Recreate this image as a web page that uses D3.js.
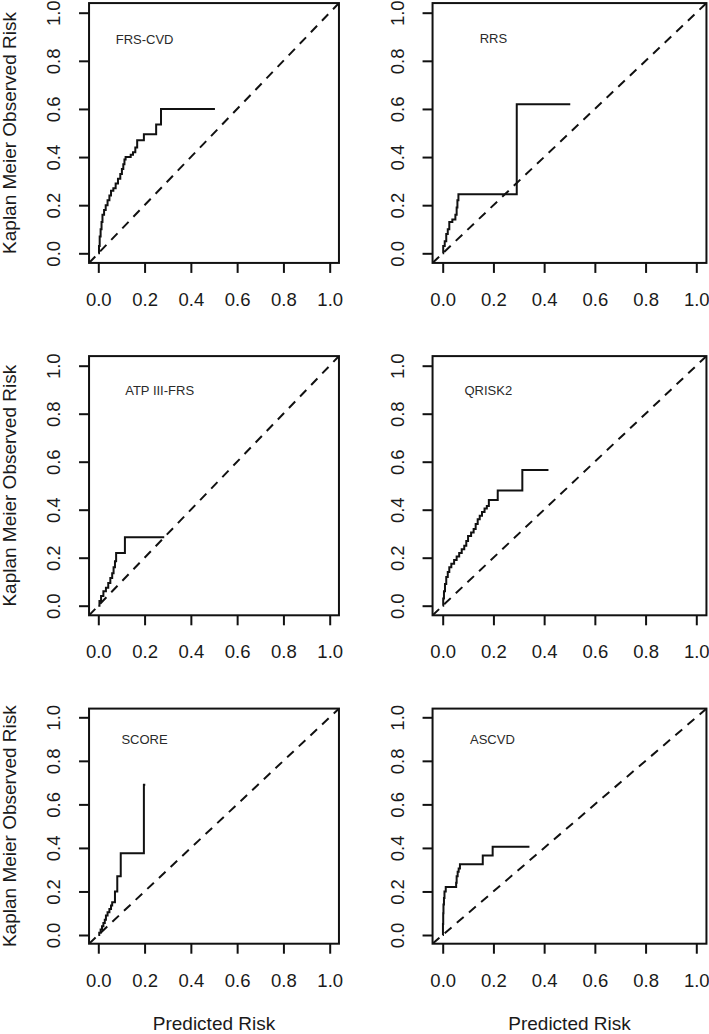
<!DOCTYPE html>
<html><head><meta charset="utf-8">
<script src="https://cdn.jsdelivr.net/npm/d3@7"></script>
<style>body{margin:0;background:#fff}svg{display:block}</style>
</head><body><svg id="c" width="709" height="1034"></svg>
<script>
// ---------- data ----------
const panelNames = ["FRS-CVD", "RRS", "ATP III-FRS", "QRISK2", "SCORE", "ASCVD"];
const labelX = [0.2, 0.2, 0.265, 0.18, 0.2, 0.196];
const labelY = [0.89, 0.895, 0.895, 0.895, 0.896, 0.896];

const frsX = [0, 0.003, 0.006, 0.010, 0.014, 0.018, 0.025, 0.032, 0.040, 0.048, 0.055, 0.065, 0.075, 0.085, 0.095, 0.102, 0.108, 0.113, 0.118, 0.140, 0.150, 0.160, 0.168, 0.197, 0.250, 0.271, 0.504];
const frsY = [0, 0.03, 0.07, 0.10, 0.13, 0.16, 0.18, 0.20, 0.22, 0.24, 0.26, 0.27, 0.29, 0.31, 0.33, 0.35, 0.37, 0.39, 0.40, 0.41, 0.42, 0.44, 0.47, 0.495, 0.535, 0.60, 0.60];

const rrsX = [0, 0.002, 0.008, 0.014, 0.020, 0.026, 0.038, 0.050, 0.055, 0.058, 0.062, 0.292, 0.503];
const rrsY = [0, 0.03, 0.05, 0.08, 0.10, 0.13, 0.14, 0.16, 0.19, 0.22, 0.245, 0.62, 0.62];

const atpX = [0, 0.005, 0.012, 0.022, 0.033, 0.043, 0.052, 0.060, 0.066, 0.072, 0.077, 0.115, 0.285];
const atpY = [0, 0.02, 0.04, 0.06, 0.075, 0.095, 0.115, 0.135, 0.16, 0.185, 0.22, 0.285, 0.285];

const qriskX = [0, 0.002, 0.005, 0.009, 0.014, 0.020, 0.026, 0.034, 0.045, 0.055, 0.065, 0.075, 0.085, 0.093, 0.100, 0.112, 0.122, 0.130, 0.138, 0.146, 0.155, 0.165, 0.174, 0.182, 0.217, 0.314, 0.417];
const qriskY = [0, 0.03, 0.06, 0.09, 0.12, 0.14, 0.16, 0.175, 0.19, 0.205, 0.22, 0.235, 0.25, 0.27, 0.29, 0.305, 0.32, 0.34, 0.36, 0.375, 0.39, 0.405, 0.415, 0.44, 0.48, 0.565, 0.565];

const scoreX = [0, 0.004, 0.010, 0.016, 0.022, 0.028, 0.033, 0.040, 0.048, 0.055, 0.060, 0.072, 0.082, 0.097, 0.197, 0.203];
const scoreY = [0, 0.01, 0.025, 0.04, 0.055, 0.07, 0.09, 0.105, 0.12, 0.135, 0.15, 0.20, 0.27, 0.375, 0.69, 0.69];

const ascvdX = [0, 0.001, 0.002, 0.003, 0.005, 0.007, 0.012, 0.053, 0.055, 0.059, 0.063, 0.068, 0.158, 0.197, 0.342];
const ascvdY = [0, 0.05, 0.10, 0.14, 0.17, 0.20, 0.22, 0.24, 0.27, 0.29, 0.305, 0.325, 0.365, 0.405, 0.405];

const tickValues = [0, 0.2, 0.4, 0.6, 0.8, 1.0];
const tickLabels = ["0.0", "0.2", "0.4", "0.6", "0.8", "1.0"];
const xAxisTitle = "Predicted Risk";
const yAxisTitle = "Kaplan Meier Observed Risk";

// ---------- layout ----------
const seriesX = [frsX, rrsX, atpX, qriskX, scoreX, ascvdX];
const seriesY = [frsY, rrsY, atpY, qriskY, scoreY, ascvdY];
const colRange = [[98.3, 329.7], [442.7, 696.3]];
const rowRange = [[253.3, 12.7], [605.7, 365.7], [935, 717.3]];
const FONT = "'Liberation Sans', Arial, Helvetica, sans-serif";
const svg = d3.select("#c");

panelNames.forEach((name, i) => {
  const col = i % 2, row = Math.floor(i / 2);
  const x = d3.scaleLinear().domain([0, 1]).range(colRange[col]);
  const y = d3.scaleLinear().domain([0, 1]).range(rowRange[row]);
  const x0 = x(-0.04), x1 = x(1.04), y0 = y(-0.04), y1 = y(1.04);
  const g = svg.append("g");

  const clipId = "clip" + i;
  g.append("clipPath").attr("id", clipId).append("rect")
    .attr("x", x0).attr("y", y1).attr("width", x1 - x0).attr("height", y0 - y1);

  // diagonal reference
  g.append("line").attr("clip-path", `url(#${clipId})`)
    .attr("x1", x(-0.04)).attr("y1", y(-0.04)).attr("x2", x(1.04)).attr("y2", y(1.04))
    .attr("stroke", "#111").attr("stroke-width", 2).attr("stroke-dasharray", "9,7");

  // KM step curve
  const pts = seriesX[i].map((v, k) => [v, seriesY[i][k]]);
  g.append("path").datum(pts)
    .attr("d", d3.line().x(d => x(d[0])).y(d => y(d[1])).curve(d3.curveStepAfter))
    .attr("fill", "none").attr("stroke", "#111").attr("stroke-width", 2);

  // box
  g.append("rect").attr("x", x0).attr("y", y1).attr("width", x1 - x0).attr("height", y0 - y1)
    .attr("fill", "none").attr("stroke", "#111").attr("stroke-width", 2);

  // x axis
  const xa = g.append("g").attr("transform", `translate(0,${y0})`)
    .call(d3.axisBottom(x).tickValues(tickValues).tickFormat((d, k) => tickLabels[k]).tickSize(10).tickSizeOuter(0));
  xa.select(".domain").remove();
  xa.selectAll(".tick line").attr("stroke", "#111").attr("stroke-width", 2);
  xa.selectAll(".tick text").attr("y", 43).attr("dy", 0)
    .attr("font-family", FONT).attr("font-size", 18.5).attr("fill", "#1a1a1a");

  // y axis
  const ya = g.append("g").attr("transform", `translate(${x0},0)`)
    .call(d3.axisLeft(y).tickValues(tickValues).tickFormat((d, k) => tickLabels[k]).tickSize(10).tickSizeOuter(0));
  ya.select(".domain").remove();
  ya.selectAll(".tick line").attr("stroke", "#111").attr("stroke-width", 2);
  ya.selectAll(".tick text").attr("x", 0).attr("y", 0).attr("dy", 0)
    .attr("transform", "translate(-29,0) rotate(-90)").attr("text-anchor", "middle")
    .attr("font-family", FONT).attr("font-size", 18.5).attr("fill", "#1a1a1a");

  // panel label
  g.append("text").attr("x", x(labelX[i])).attr("y", y(labelY[i])).attr("dy", "0.35em")
    .attr("text-anchor", "middle").attr("font-family", FONT).attr("font-size", 13)
    .attr("fill", "#2a2a2a").text(name);

  // y title (left column)
  if (col === 0) {
    const cy = (y0 + y1) / 2;
    g.append("text").attr("transform", `translate(16,${cy}) rotate(-90)`)
      .attr("text-anchor", "middle").attr("font-family", FONT).attr("font-size", 19)
      .attr("fill", "#1a1a1a").text(yAxisTitle);
  }
  // x title (bottom row)
  if (row === 2) {
    g.append("text").attr("x", (x0 + x1) / 2).attr("y", 1030)
      .attr("text-anchor", "middle").attr("font-family", FONT).attr("font-size", 19)
      .attr("fill", "#1a1a1a").text(xAxisTitle);
  }
});
</script></body></html>
